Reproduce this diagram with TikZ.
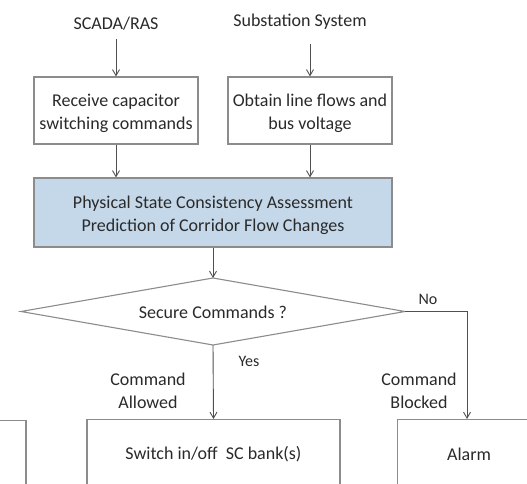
\documentclass[tikz,border=0pt]{standalone}
\usepackage{fontspec}
\setmainfont{Carlito}
\usetikzlibrary{arrows.meta,shapes.geometric}
\definecolor{boxline}{HTML}{8C8C8C}
\definecolor{txt}{HTML}{2A2A2A}
\definecolor{bluefill}{HTML}{C5D8EA}
\definecolor{arr}{HTML}{505050}
\tikzset{
  x=1pt, y=-1pt,
  every node/.style={font=\fontsize{18}{23}\selectfont, text=txt},
  stepbox/.style={draw=boxline, line width=1.1pt, align=center, inner sep=0pt},
  conn/.style={draw=arr, line width=0.9pt, -{Straight Barb[length=6pt,width=7pt]}},
  lbl/.style={align=center, inner sep=0pt},
  boxtext/.style={lbl, yshift=-2.5pt},
  small/.style={font=\fontsize{16}{19}\selectfont}
}
\begin{document}
\begin{tikzpicture}
\clip (0,0) rectangle (527,484);
\fill[white] (0,0) rectangle (527,484);
% sources
\node[lbl] (scada) at (116,24) {SCADA/RAS};
\node[lbl] (subst) at (300,21.5) {Substation System};
\coordinate (scadaEnd) at (116,39);
\coordinate (substEnd) at (310,44);
% top boxes
\node[stepbox, minimum width=164pt, minimum height=67pt, label={[boxtext]center:Receive capacitor\\switching commands}] (recv) at (116,110.5) {};
\node[stepbox, minimum width=164pt, minimum height=67pt, label={[boxtext]center:Obtain line flows and\\bus voltage}] (obt) at (310,110.5) {};
% blue box
\node[stepbox, fill=bluefill, minimum width=358pt, minimum height=69pt, label={[boxtext]center:Physical State Consistency Assessment\\Prediction of Corridor Flow Changes}] (phys) at (213,212.5) {};
% decision diamond
\path (213,278) coordinate (dtop) (213,345) coordinate (dbot) (21,311.5) coordinate (dleft) (405,311.5) coordinate (dright);
\draw[draw=boxline, line width=1.1pt, fill=white] (dtop) -- (dright) -- (dbot) -- (dleft) -- cycle;
\node[lbl] (dec) at (213,312.5) {Secure Commands ?};
% bottom boxes
\node[stepbox, minimum width=253pt, minimum height=68pt, anchor=north] (sw) at (213.5,419) {};
\node[lbl] (swtext) at (213.5,454) {Switch in/off~ SC bank(s)};
\node[stepbox, minimum width=150pt, minimum height=68pt, anchor=north west] (alarm) at (397,419) {};
\node[lbl] (alarmtext) at (469,454) {Alarm};
\node[stepbox, minimum width=60pt, minimum height=70pt, anchor=north east] (leftbox) at (26.5,420) {};
% labels
\node[lbl, small] (no) at (428,299) {No};
\node[lbl, small] (yes) at (249,361) {Yes};
\node[lbl] (allowed) at (148,391) {Command\\Allowed};
\node[lbl] (blocked) at (419,391) {Command\\Blocked};
% connectors
\draw[conn] (scadaEnd) -- (recv.north);
\draw[conn] (substEnd) -- (obt.north);
\draw[conn] (recv.south) -- (recv.south |- phys.north);
\draw[conn] (obt.south) -- (obt.south |- phys.north);
\draw[conn] (phys.south) -- (dtop);
\draw[conn] (dbot) -- (sw.north);
\coordinate (bend) at (467,311.5);
\draw[conn] (dright) -- (bend) -- (bend |- alarm.north);
\end{tikzpicture}
\end{document}
